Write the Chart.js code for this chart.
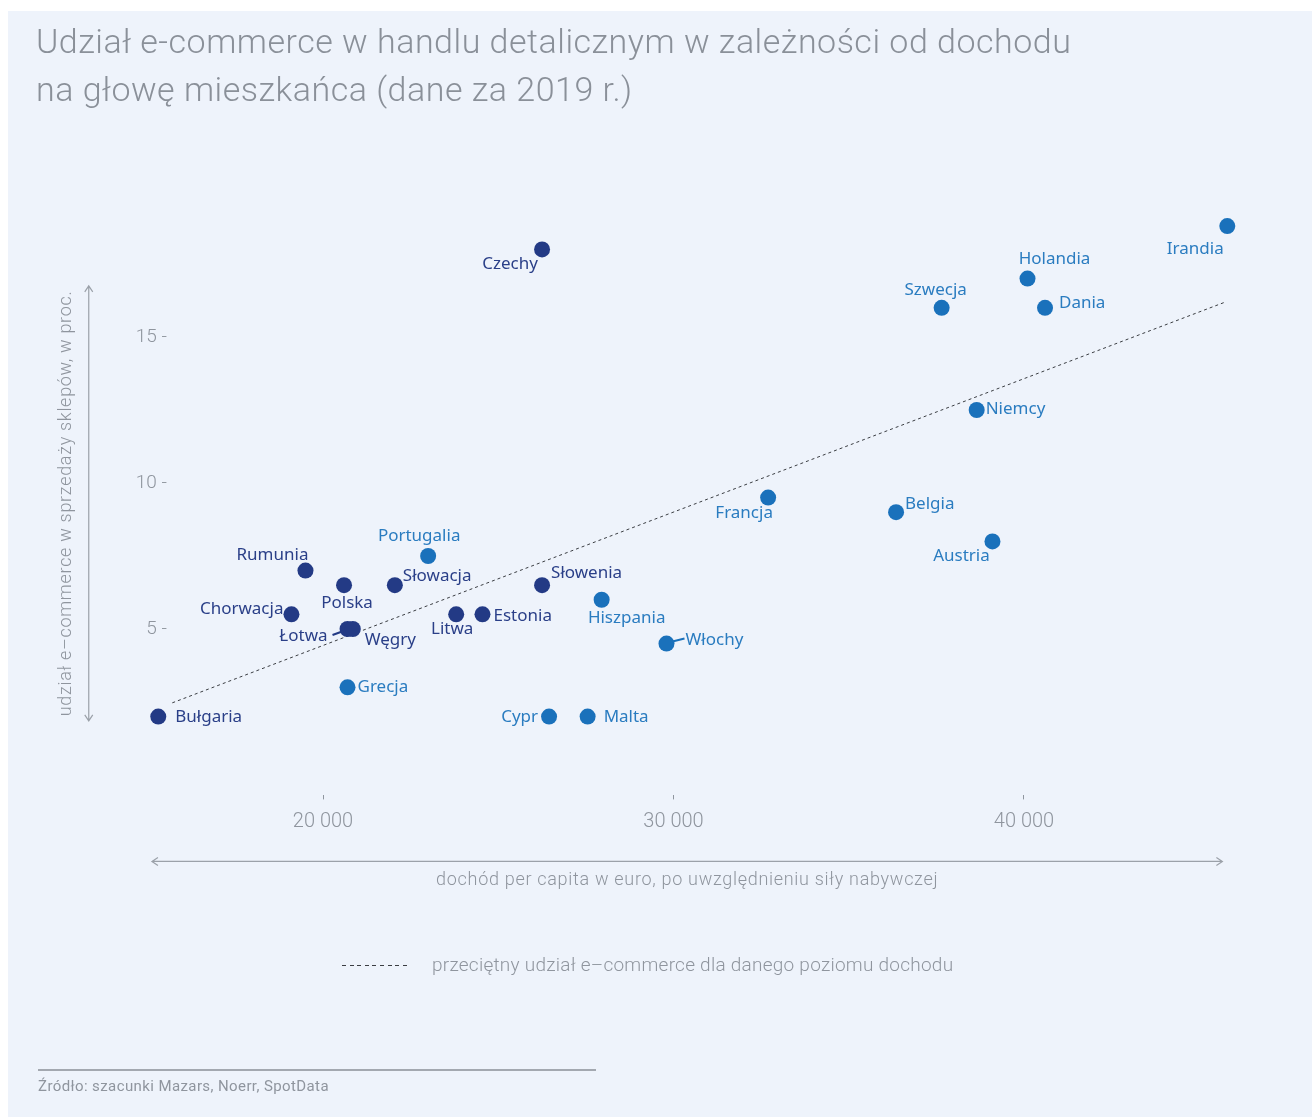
<!DOCTYPE html>
<html lang="pl">
<head>
<meta charset="utf-8">
<script src="https://cdn.jsdelivr.net/npm/chart.js@4.4.1/dist/chart.umd.min.js"></script>
<style>
  html, body { margin: 0; padding: 0; background: #fff; }
  body { width: 1312px; height: 1117px; position: relative; overflow: hidden; }
  #panel { position: absolute; left: 8px; top: 11px; width: 1304px; height: 1106px; background: #eef3fb; }
  #chart-box { position: absolute; left: 0; top: 0; width: 1312px; height: 1117px; }
  .title { position: absolute; left: 36px; top: 17px; font-family: Roboto, sans-serif; font-weight: 300;
    font-size: 34px; letter-spacing: 0.5px; line-height: 48px; color: #8a9099; white-space: nowrap; }
  .legend { position: absolute; left: 342px; top: 953px; font-family: Roboto, sans-serif; font-weight: 300;
    font-size: 19px; letter-spacing: 0.25px; color: #8f959e; white-space: nowrap; }
  .legend .dash { display: inline-block; width: 68px; height: 1px; vertical-align: middle; margin-right: 22px;
    background: repeating-linear-gradient(to right, #3a3d42 0 4px, transparent 4px 7.6px); }
  .rule { position: absolute; left: 38px; top: 1069px; width: 558px; height: 2px; background: #a3a8b0; }
  .source { position: absolute; left: 38px; top: 1077px; font-family: Roboto, sans-serif; font-size: 15px;
    letter-spacing: 0.4px; color: #8f959e; white-space: nowrap; }
</style>
</head>
<body>
<div id="panel"></div>
<div id="chart-box"><canvas id="myChart" width="1312" height="1117"></canvas></div>
<div class="title">Udział e-commerce w handlu detalicznym w zależności od dochodu<br>na głowę mieszkańca (dane za 2019 r.)</div>
<div class="legend"><span class="dash"></span>przeciętny udział e–commerce dla danego poziomu dochodu</div>
<div class="rule"></div>
<div class="source">Źródło: szacunki Mazars, Noerr, SpotData</div>

<script>
// Europa Środkowo-Wschodnia (granatowe)
const ceeCountries = ['Bułgaria', 'Rumunia', 'Chorwacja', 'Polska', 'Łotwa', 'Węgry', 'Słowacja', 'Litwa', 'Estonia', 'Słowenia', 'Czechy'];
const ceeIncome = [15300, 19500, 19100, 20600, 20700, 20850, 22050, 23800, 24550, 26250, 26250];
const ceeShare = [2.0, 7.0, 5.5, 6.5, 5.0, 5.0, 6.5, 5.5, 5.5, 6.5, 18.0];

// pozostałe kraje (niebieskie)
const westCountries = ['Grecja', 'Portugalia', 'Hiszpania', 'Włochy', 'Cypr', 'Malta', 'Francja', 'Belgia', 'Austria', 'Niemcy', 'Szwecja', 'Holandia', 'Dania', 'Irandia'];
const westIncome = [20700, 23000, 27950, 29800, 26450, 27550, 32700, 36350, 39100, 38650, 37650, 40100, 40600, 45800];
const westShare = [3.0, 7.5, 6.0, 4.5, 2.0, 2.0, 9.5, 9.0, 8.0, 12.5, 16.0, 17.0, 16.0, 18.8];

// linia trendu
const trendIncome = [15700, 45750];
const trendShare = [2.47, 16.2];

const xTicks = [20000, 30000, 40000];
const yTicks = [5, 10, 15];

const NAVY = '#233a85';
const BLUE = '#1a71bb';
const NAVY_TEXT = '#2a3f88';
const BLUE_TEXT = '#2a7cc0';
const GREY = '#8f959e';

// where each label sits relative to its point: [dx, dy, align, leader]
const labelPlace = {
  'Czechy': [-32, 15, 'center'], 'Holandia': [27, -19, 'center'], 'Irandia': [-32, 23, 'center'],
  'Szwecja': [-6, -18, 'center'], 'Dania': [14, -5, 'left'], 'Niemcy': [9, -1, 'left'],
  'Francja': [-24, 16, 'center'], 'Belgia': [9, -8, 'left'], 'Austria': [-31, 15, 'center'],
  'Portugalia': [-9, -20, 'center'], 'Rumunia': [-33, -15, 'center'], 'Słowacja': [8, -9, 'left'],
  'Polska': [3, 18, 'center'], 'Słowenia': [9, -12, 'left'], 'Chorwacja': [-8, -5, 'right'],
  'Litwa': [-4, 15, 'center'], 'Estonia': [11, 2, 'left'], 'Hiszpania': [25, 18, 'center'],
  'Łotwa': [-20, 7, 'right', [-15, 6, -4, 2]], 'Węgry': [12, 11, 'left'],
  'Włochy': [19, -3, 'left', [6, -2, 18, -5]], 'Grecja': [10, 0, 'left'],
  'Bułgaria': [17, 1, 'left'], 'Cypr': [-11, 1, 'right'], 'Malta': [16, 1, 'left']
};

function toPoints(xs, ys) {
  return xs.map((x, i) => ({ x: x, y: ys[i] }));
}

const pointLabels = {
  id: 'pointLabels',
  afterDatasetsDraw(chart) {
    const ctx = chart.ctx;
    ctx.save();
    ctx.font = '17px "Noto Sans", sans-serif';
    ctx.textBaseline = 'middle';
    chart.data.datasets.forEach((ds, di) => {
      if (!ds.names) return;
      const meta = chart.getDatasetMeta(di);
      meta.data.forEach((pt, i) => {
        const name = ds.names[i];
        const p = labelPlace[name] || [10, 0, 'left'];
        ctx.fillStyle = ds.textColor;
        ctx.textAlign = p[2];
        ctx.fillText(name, pt.x + p[0], pt.y + p[1]);
        if (p[3]) {
          ctx.strokeStyle = ds.backgroundColor;
          ctx.lineWidth = 2;
          ctx.beginPath();
          ctx.moveTo(pt.x + p[3][0], pt.y + p[3][1]);
          ctx.lineTo(pt.x + p[3][2], pt.y + p[3][3]);
          ctx.stroke();
        }
      });
    });
    ctx.restore();
  }
};

const axisArrows = {
  id: 'axisArrows',
  afterDraw(chart) {
    const ctx = chart.ctx;
    const area = chart.chartArea;
    const sx = chart.scales.x;
    const sy = chart.scales.y;
    const yTop = sy.getPixelForValue(16.75);
    const yBot = sy.getPixelForValue(1.85);
    const xL = sx.getPixelForValue(15120);
    const xR = sx.getPixelForValue(45660);
    const ax = area.left - 59;
    const ay = area.bottom + 66;
    ctx.save();
    ctx.strokeStyle = '#9ba1a9';
    ctx.lineWidth = 1.2;
    ctx.beginPath();
    ctx.moveTo(ax, yTop); ctx.lineTo(ax, yBot);
    ctx.moveTo(ax - 4, yTop + 6); ctx.lineTo(ax, yTop); ctx.lineTo(ax + 4, yTop + 6);
    ctx.moveTo(ax - 4, yBot - 6); ctx.lineTo(ax, yBot); ctx.lineTo(ax + 4, yBot - 6);
    ctx.moveTo(xL, ay); ctx.lineTo(xR, ay);
    ctx.moveTo(xL + 6, ay - 4); ctx.lineTo(xL, ay); ctx.lineTo(xL + 6, ay + 4);
    ctx.moveTo(xR - 6, ay - 4); ctx.lineTo(xR, ay); ctx.lineTo(xR - 6, ay + 4);
    ctx.stroke();

    ctx.fillStyle = GREY;
    ctx.font = '300 18px Roboto, sans-serif';
    ctx.letterSpacing = '0.7px';
    ctx.textAlign = 'center';
    ctx.textBaseline = 'middle';
    ctx.fillText('dochód per capita w euro, po uwzględnieniu siły nabywczej', (xL + xR) / 2, ay + 19);
    ctx.translate(ax - 22, (yTop + yBot) / 2);
    ctx.rotate(-Math.PI / 2);
    ctx.fillText('udział e–commerce w sprzedaży sklepów, w proc.', 0, 0);
    ctx.restore();
  }
};

function main() {
  const ctx = document.getElementById('myChart');

  new Chart(ctx, {
    type: 'scatter',
    data: {
      datasets: [
        {
          names: ceeCountries,
          textColor: NAVY_TEXT,
          data: toPoints(ceeIncome, ceeShare),
          backgroundColor: NAVY,
          borderWidth: 0,
          pointRadius: 8,
          clip: false,
          order: 1,
        },
        {
          names: westCountries,
          textColor: BLUE_TEXT,
          data: toPoints(westIncome, westShare),
          backgroundColor: BLUE,
          borderWidth: 0,
          pointRadius: 8,
          clip: false,
          order: 1,
        },
        {
          type: 'line',
          data: toPoints(trendIncome, trendShare),
          borderColor: '#3a3d42',
          borderWidth: 1,
          borderDash: [3, 3],
          pointRadius: 0,
          fill: false,
          order: 2,
        },
      ],
    },
    options: {
      responsive: false,
      animation: false,
      events: [],
      layout: { padding: { left: 97.75, right: 77.7, top: 191, bottom: 281.6 } },
      plugins: { legend: { display: false }, tooltip: { enabled: false } },
      scales: {
        x: {
          type: 'linear',
          min: 15000,
          max: 46000,
          afterBuildTicks: scale => { scale.ticks = xTicks.map(v => ({ value: v })); },
          afterFit: scale => { scale.height = 40; },
          border: { display: false },
          grid: { drawOnChartArea: false, drawTicks: true, tickLength: 4, color: '#8f959e', lineWidth: 1 },
          ticks: {
            color: GREY,
            padding: 11,
            font: { family: 'Roboto', size: 20, weight: 300 },
            callback: v => String(Math.floor(v / 1000)) + ' ' + String(v % 1000).padStart(3, '0'),
          },
        },
        y: {
          min: -0.7,
          max: 20,
          afterBuildTicks: scale => { scale.ticks = yTicks.map(v => ({ value: v })); },
          afterFit: scale => { scale.width = 50; },
          border: { display: false },
          grid: { display: false, drawTicks: false },
          ticks: {
            color: GREY,
            mirror: true,
            crossAlign: 'far',
            padding: -12,
            font: { family: 'Roboto', size: 19, weight: 300 },
            callback: v => v + ' -',
          },
        },
      },
    },
    plugins: [pointLabels, axisArrows],
  });
}

main();
</script>
</body>
</html>
